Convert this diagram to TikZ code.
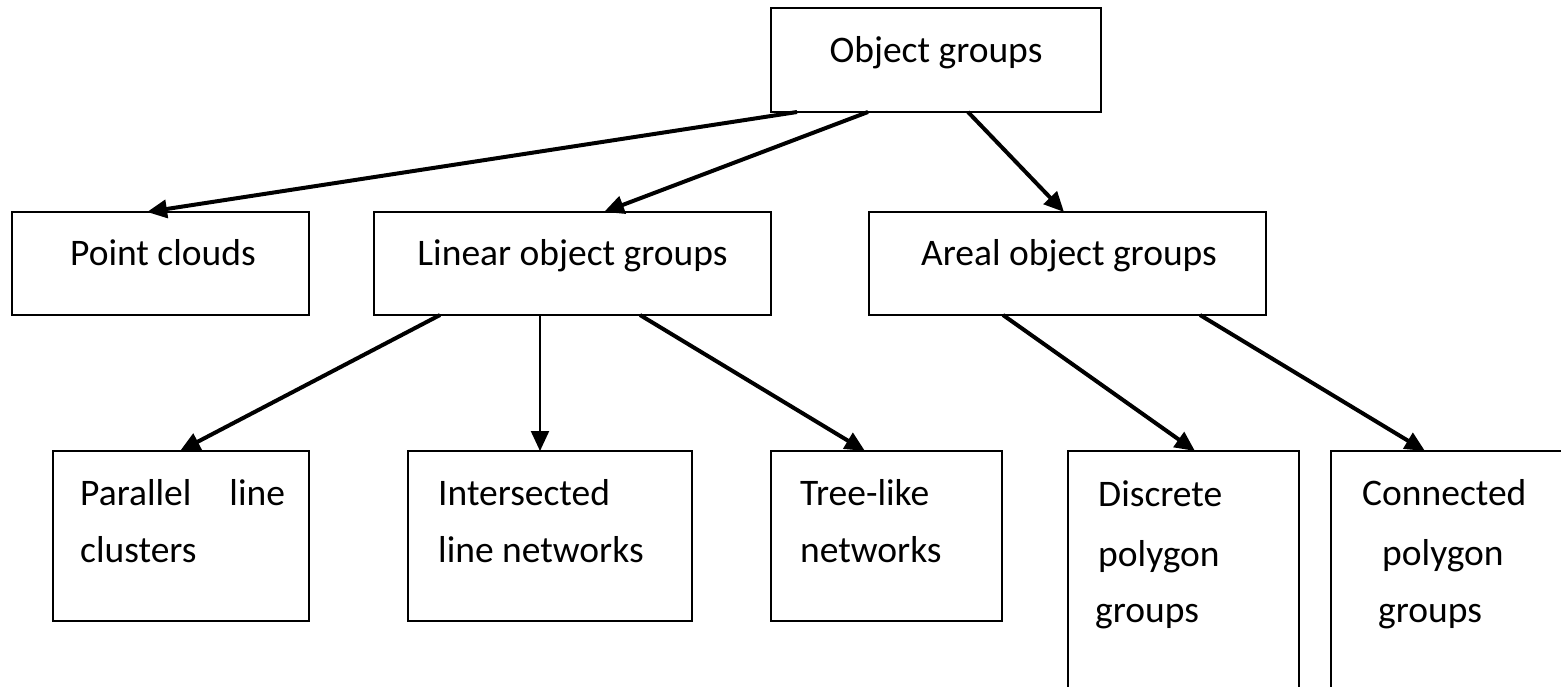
\documentclass[tikz,border=0pt]{standalone}
\usepackage{fontspec}
\setmainfont{Carlito}
\usetikzlibrary{arrows.meta}
\tikzset{
  box/.style={draw=black, line width=2.2pt, rectangle, inner sep=0pt, outer sep=0pt},
  txt/.style={anchor=base west, inner sep=0pt, font=\fontsize{37.5}{45}\selectfont},
  ctxt/.style={anchor=base, inner sep=0pt, font=\fontsize{37.5}{45}\selectfont},
  arr/.style={line width=4pt, -{Triangle[length=20pt,width=18pt]}},
  thinarr/.style={line width=2.2pt, -{Triangle[length=20pt,width=18pt]}}
}
\begin{document}
\begin{tikzpicture}[x=1pt,y=-1pt]
\useasboundingbox (0,0) rectangle (1561,686);
\clip (0,0) rectangle (1561,686);
% boxes
\node[box, minimum width=330pt, minimum height=104pt] (obj) at (936,60) {};
\node[box, minimum width=297pt, minimum height=103pt] (pc) at (160.5,263.5) {};
\node[box, minimum width=397pt, minimum height=103pt] (lin) at (572.5,263.5) {};
\node[box, minimum width=397pt, minimum height=103pt] (are) at (1067.5,263.5) {};
\node[box, minimum width=256pt, minimum height=170pt] (par) at (181,536) {};
\node[box, minimum width=284pt, minimum height=170pt] (int) at (550,536) {};
\node[box, minimum width=231pt, minimum height=170pt] (tre) at (886.5,536) {};
\node[box, minimum width=231pt, minimum height=309pt] (dis) at (1183.5,605.5) {};
\node[box, minimum width=289pt, minimum height=309pt] (con) at (1475.5,605.5) {};
% texts
\node[ctxt] (obj-t) at (936,62) {Object groups};
\node[ctxt] (pc-t) at (163,265) {Point clouds};
\node[ctxt] (lin-t) at (572.5,265) {Linear object groups};
\node[ctxt] (are-t) at (1069,265) {Areal object groups};
\node[txt] (par-t1) at (80,505) {Parallel\hspace{38pt}line};
\node[txt] (par-t2) at (80,562) {clusters};
\node[txt] (int-t1) at (438,505) {Intersected};
\node[txt] (int-t2) at (438,562) {line networks};
\node[txt] (tre-t1) at (800,505) {Tree-like};
\node[txt] (tre-t2) at (800,562) {networks};
\node[txt] (dis-t1) at (1098,506) {Discrete};
\node[txt] (dis-t2) at (1098,566) {polygon};
\node[txt] (dis-t3) at (1095,622) {groups};
\node[txt] (con-t1) at (1362,505) {Connected};
\node[txt] (con-t2) at (1382,565) {polygon};
\node[txt] (con-t3) at (1378,622) {groups};
% connectors
\draw[arr] ([xshift=26pt]obj.south west) -- ([xshift=135pt]pc.north west);
\draw[arr] ([xshift=97pt]obj.south west) -- ([xshift=230pt]lin.north west);
\draw[arr] ([xshift=197pt]obj.south west) -- ([xshift=195pt]are.north west);
\draw[arr] ([xshift=66pt]lin.south west) -- ([xshift=127pt]par.north west);
\draw[thinarr] ([xshift=166pt]lin.south west) -- ([xshift=132pt]int.north west);
\draw[arr] ([xshift=266pt]lin.south west) -- ([xshift=94pt]tre.north west);
\draw[arr] ([xshift=134pt]are.south west) -- ([xshift=127pt]dis.north west);
\draw[arr] ([xshift=331pt]are.south west) -- ([xshift=94pt]con.north west);
\end{tikzpicture}
\end{document}
